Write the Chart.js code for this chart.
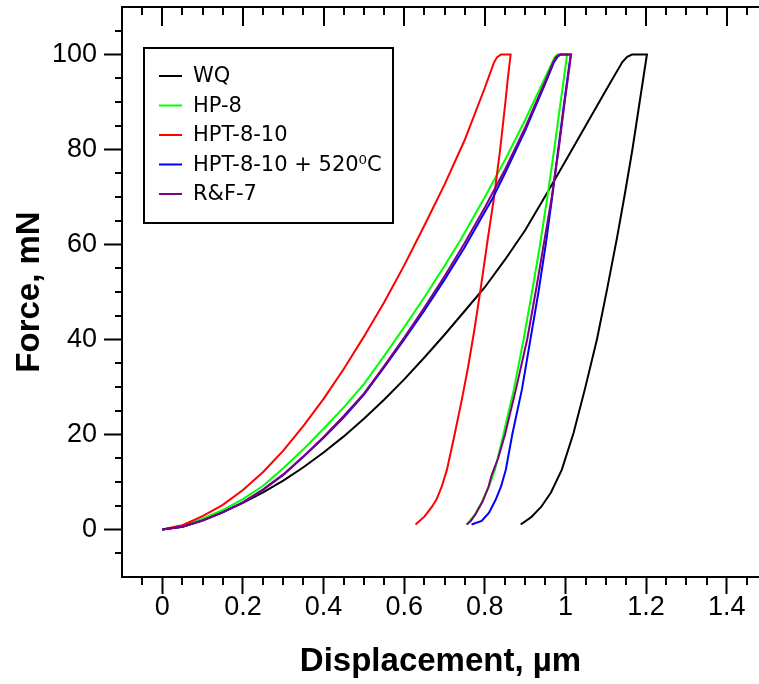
<!DOCTYPE html>
<html>
<head>
<meta charset="utf-8">
<script src="https://cdn.jsdelivr.net/npm/chart.js@4.4.0/dist/chart.umd.min.js"></script>
<style>
  html, body { margin: 0; padding: 0; background: #fff; overflow: hidden; }
</style>
</head>
<body>
<canvas id="load-chart" width="759" height="684"></canvas>
<script>
var seriesNames = ["WQ", "HP-8", "HPT-8-10", "HPT-8-10 + 520\u2070C", "R&F-7"];
var seriesColors = ["#000000", "#00ff00", "#ff0000", "#0000ff", "#800080"];

var xTickValues = [0, 0.2, 0.4, 0.6, 0.8, 1, 1.2, 1.4];
var xTickLabels = ["0", "0.2", "0.4", "0.6", "0.8", "1", "1.2", "1.4"];
var yTickValues = [0, 20, 40, 60, 80, 100];
var yTickLabels = ["0", "20", "40", "60", "80", "100"];

// displacement (um) / force (mN), loading -> hold -> unloading
var wqDisp = [0, 0.05, 0.1, 0.15, 0.2, 0.25, 0.3, 0.35, 0.4, 0.45, 0.5, 0.55, 0.6, 0.65, 0.7, 0.75, 0.8, 0.85, 0.9, 0.95, 1.0, 1.05, 1.1, 1.141, 1.153, 1.165, 1.202,
  1.193, 1.184, 1.175, 1.166, 1.148, 1.128, 1.103, 1.078, 1.048, 1.02, 0.991, 0.964, 0.94, 0.915, 0.889];
var wqForce = [0, 0.6, 2.0, 3.7, 5.6, 7.8, 10.3, 13.1, 16.2, 19.6, 23.3, 27.3, 31.6, 36.2, 41.0, 46.0, 51.0, 56.8, 63.0, 70.2, 77.6, 85.0, 92.4, 98.4, 99.5, 100, 100,
  95, 90, 85, 80, 71, 61.5, 50.5, 40, 29.5, 20.3, 12.6, 7.8, 4.8, 2.6, 1.05];

var hp8Disp = [0, 0.05, 0.1, 0.15, 0.2, 0.25, 0.3, 0.35, 0.4, 0.45, 0.5, 0.55, 0.6, 0.65, 0.7, 0.74, 0.8, 0.85, 0.9, 0.95, 0.966, 0.973, 0.98, 1.004,
  0.996, 0.988, 0.972, 0.955, 0.937, 0.917, 0.896, 0.872, 0.846, 0.825, 0.81, 0.792, 0.774, 0.755];
var hp8Force = [0, 0.8, 2.3, 4.1, 6.4, 9.2, 12.9, 16.9, 21.2, 25.7, 30.6, 36.5, 42.6, 48.9, 55.5, 61, 70, 77.8, 86.2, 95.2, 98.1, 99.4, 100, 100,
  95, 90, 80, 70, 60, 50, 40, 29.5, 20, 12.6, 9, 5.7, 3, 1.05];

var hptDisp = [0, 0.05, 0.1, 0.15, 0.2, 0.25, 0.3, 0.35, 0.4, 0.45, 0.5, 0.55, 0.6, 0.65, 0.7, 0.75, 0.8, 0.822, 0.83, 0.84, 0.864,
  0.857, 0.851, 0.838, 0.822, 0.807, 0.79, 0.774, 0.758, 0.743, 0.725, 0.706, 0.693, 0.68, 0.668, 0.65, 0.628];
var hptForce = [0, 0.9, 2.8, 5.2, 8.3, 12.1, 16.6, 21.8, 27.5, 33.8, 40.6, 47.8, 55.6, 64.0, 72.6, 82.0, 93.0, 98.2, 99.4, 100, 100,
  95, 90, 80, 69.5, 61, 50.9, 42, 34, 27.4, 20, 12.6, 9, 6.3, 4.7, 2.7, 1.05];

var hpt520Disp = [0, 0.05, 0.1, 0.15, 0.2, 0.25, 0.3, 0.35, 0.4, 0.45, 0.5, 0.55, 0.6, 0.65, 0.7, 0.75, 0.8, 0.818, 0.85, 0.9, 0.95, 0.971, 0.98, 0.988, 1.013,
  1.005, 0.997, 0.982, 0.967, 0.951, 0.933, 0.913, 0.892, 0.868, 0.852, 0.84, 0.827, 0.81, 0.792, 0.767];
var hpt520Force = [0, 0.6, 1.9, 3.6, 5.7, 8.4, 11.5, 15.3, 19.3, 23.6, 28.4, 34.1, 40.0, 46.1, 52.6, 59.4, 66.9, 69.5, 75.0, 84.0, 93.9, 98.3, 99.5, 100, 100,
  95, 90, 80, 70, 60, 50, 40, 29.5, 20, 12.6, 9, 6.3, 3.5, 1.8, 1.05];

var rf7Disp = [0, 0.05, 0.1, 0.15, 0.2, 0.25, 0.3, 0.35, 0.4, 0.45, 0.5, 0.55, 0.6, 0.65, 0.7, 0.75, 0.8, 0.85, 0.9, 0.95, 0.969, 0.977, 0.986, 1.014,
  1.006, 0.998, 0.983, 0.966, 0.946, 0.926, 0.905, 0.877, 0.85, 0.833, 0.822, 0.816, 0.809, 0.795, 0.777, 0.765, 0.755];
var rf7Force = [0, 0.6, 1.9, 3.6, 5.7, 8.4, 11.6, 15.4, 19.5, 23.9, 28.6, 34.4, 40.4, 46.7, 53.3, 60.3, 67.8, 75.8, 84.6, 94.4, 98.3, 99.5, 100, 100,
  95, 90, 80, 70, 60, 50, 40, 29.5, 20, 15, 12.6, 11.2, 9, 6, 3.2, 1.8, 1.05];

function pts(xs, ys) {
  return xs.map(function (x, i) { return { x: x, y: ys[i] }; });
}

var allSeries = [
  pts(wqDisp, wqForce),
  pts(hp8Disp, hp8Force),
  pts(hptDisp, hptForce),
  pts(hpt520Disp, hpt520Force),
  pts(rf7Disp, rf7Force)
];
var drawOrder = [5, 4, 3, 2, 1];

var datasets = allSeries.map(function (d, i) {
  return {
    label: seriesNames[i],
    data: d,
    showLine: true,
    borderColor: seriesColors[i],
    backgroundColor: seriesColors[i],
    borderWidth: 2,
    pointRadius: 0,
    tension: 0,
    order: drawOrder[i]
  };
});

// minor ticks, top frame with inward ticks, and the boxed legend
var decor = {
  id: 'decor',
  afterDraw: function (chart) {
    var ctx = chart.ctx, a = chart.chartArea;
    var xs = chart.scales.x, ys = chart.scales.y;
    ctx.save();
    ctx.strokeStyle = '#000';
    ctx.lineWidth = 2;
    ctx.beginPath();
    ctx.moveTo(a.left - 1, a.top);
    ctx.lineTo(a.right, a.top);
    ctx.stroke();

    ctx.beginPath();
    for (var k = -1; k * 0.05 <= xs.max + 1e-9; k++) {
      var px = Math.round(xs.getPixelForValue(k * 0.05));
      var major = (k % 4 === 0);
      ctx.moveTo(px, a.top);
      ctx.lineTo(px, a.top + (major ? 19 : 8));
      if (!major) {
        ctx.moveTo(px, a.bottom);
        ctx.lineTo(px, a.bottom + 8);
      }
    }
    for (var j = -1; j <= 21; j++) {
      if (j % 4 === 0) continue;
      var py = Math.round(ys.getPixelForValue(j * 5));
      ctx.moveTo(a.left - 7, py);
      ctx.lineTo(a.left, py);
    }
    ctx.stroke();

    // legend
    var bx = a.left + 22, by = a.top + 41, bw = 249, bh = 175;
    ctx.fillStyle = '#fff';
    ctx.fillRect(bx, by, bw, bh);
    ctx.strokeRect(bx, by, bw, bh);
    ctx.font = '21px "DejaVu Sans"';
    ctx.textBaseline = 'middle';
    chart.data.datasets.forEach(function (ds, i) {
      var ry = by + 28 + i * 29.5;
      ctx.strokeStyle = ds.borderColor;
      ctx.beginPath();
      ctx.moveTo(bx + 15, ry);
      ctx.lineTo(bx + 38, ry);
      ctx.stroke();
      ctx.fillStyle = '#000';
      ctx.fillText(ds.label, bx + 49, ry + 1);
    });
    ctx.restore();
  }
};

new Chart(document.getElementById("load-chart"), {
  type: 'scatter',
  data: { datasets: datasets },
  options: {
    responsive: false,
    animation: false,
    layout: { padding: { top: 7, right: 0, left: 0, bottom: 0 } },
    plugins: {
      legend: { display: false },
      tooltip: { enabled: false }
    },
    scales: {
      x: {
        type: 'linear',
        min: -0.1,
        max: 1.48,
        afterBuildTicks: function (s) {
          s.ticks = xTickValues.map(function (v) { return { value: v }; });
        },
        afterFit: function (s) {
          s.height = 107;
          s.paddingLeft = 0;
          s.paddingRight = 0;
        },
        ticks: {
          autoSkip: false,
          maxRotation: 0,
          padding: -3,
          color: '#000',
          font: { family: '"Liberation Sans", Arial', size: 27 },
          callback: function (v, i) { return xTickLabels[i]; }
        },
        grid: {
          drawOnChartArea: false,
          tickLength: 17,
          tickWidth: 2,
          tickColor: '#000'
        },
        border: { display: true, color: '#000', width: 2 },
        title: {
          display: true,
          text: 'Displacement, \u00b5m',
          color: '#000',
          font: { family: '"Liberation Sans", Arial', size: 33, weight: 'bold' },
          padding: { top: 0, bottom: 2 }
        }
      },
      y: {
        type: 'linear',
        min: -10,
        max: 110,
        afterBuildTicks: function (s) {
          s.ticks = yTickValues.map(function (v) { return { value: v }; });
        },
        afterFit: function (s) {
          s.width = 122;
          s.paddingTop = 0;
          s.paddingBottom = 0;
        },
        ticks: {
          padding: 7,
          color: '#000',
          font: { family: '"Liberation Sans", Arial', size: 27 },
          callback: function (v, i) { return yTickLabels[i]; }
        },
        grid: {
          drawOnChartArea: false,
          tickLength: 18,
          tickWidth: 2,
          tickColor: '#000'
        },
        border: { display: true, color: '#000', width: 2 },
        title: {
          display: true,
          text: 'Force, mN',
          color: '#000',
          font: { family: '"Liberation Sans", Arial', size: 33, weight: 'bold' },
          padding: { top: 10, bottom: 0 }
        }
      }
    }
  },
  plugins: [decor]
});
</script>
</body>
</html>
